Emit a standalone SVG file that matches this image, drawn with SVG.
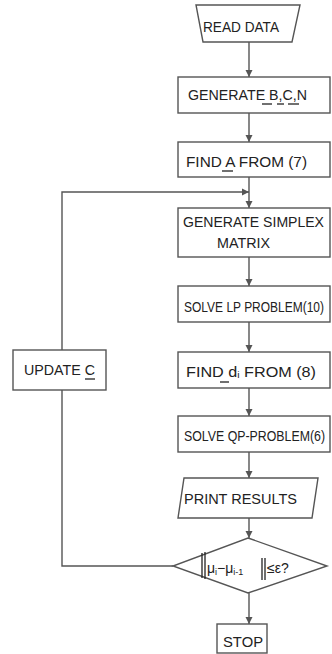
<svg xmlns="http://www.w3.org/2000/svg" width="332" height="654" viewBox="0 0 332 654">
<defs>
<marker id="ah" viewBox="0 0 10 10" refX="10" refY="5" markerWidth="7" markerHeight="8" orient="auto" markerUnits="userSpaceOnUse">
<path d="M0,0 L10,5 L0,10 z" fill="#555"/>
</marker>
<style>
.box{fill:#fff;stroke:#555;stroke-width:1.4}
.t{font-family:"Liberation Sans",Arial,sans-serif;font-size:14px;fill:#222}
.c{fill:none;stroke:#555;stroke-width:1.4}
.u{stroke:#222;stroke-width:1.3}
</style>
</defs>
<rect width="332" height="654" fill="#fff"/>
<g id="connectors">
<line class="c" x1="249" y1="42" x2="249" y2="77" marker-end="url(#ah)"/>
<line class="c" x1="249" y1="113" x2="249" y2="142" marker-end="url(#ah)"/>
<line class="c" x1="249" y1="177" x2="249" y2="208" marker-end="url(#ah)"/>
<line class="c" x1="249" y1="257" x2="249" y2="286" marker-end="url(#ah)"/>
<line class="c" x1="249" y1="322" x2="249" y2="352" marker-end="url(#ah)"/>
<line class="c" x1="249" y1="388" x2="249" y2="416" marker-end="url(#ah)"/>
<line class="c" x1="249" y1="452" x2="249" y2="478" marker-end="url(#ah)"/>
<line class="c" x1="249" y1="518" x2="249" y2="538" marker-end="url(#ah)"/>
<line class="c" x1="249" y1="593" x2="249" y2="624" marker-end="url(#ah)"/>
<polyline class="c" points="173,566 62,566 62,390"/>
<polyline class="c" points="62,350 62,192 249,192" marker-end="url(#ah)"/>
</g>
<g id="read-data">
<polygon class="box" points="196,5 300,5 292,42 203,42"/>
<text class="t" x="203" y="32" textLength="76" lengthAdjust="spacingAndGlyphs">READ DATA</text>
</g>
<g id="generate-bcn">
<rect class="box" x="178" y="77" width="152" height="36"/>
<text class="t" x="188" y="100" textLength="119" lengthAdjust="spacingAndGlyphs">GENERATE  B,C,N</text>
<line class="u" x1="262" y1="104" x2="272" y2="104"/>
<line class="u" x1="277" y1="104" x2="284" y2="104"/>
<line class="u" x1="288" y1="104" x2="299" y2="104"/>
</g>
<g id="find-a">
<rect class="box" x="178" y="142" width="152" height="35"/>
<text class="t" x="186" y="167" textLength="121" lengthAdjust="spacingAndGlyphs">FIND A FROM (7)</text>
<line class="u" x1="222" y1="171" x2="233" y2="171"/>
</g>
<g id="generate-simplex">
<rect class="box" x="178" y="208" width="152" height="49"/>
<text class="t" x="183" y="227" textLength="141" lengthAdjust="spacingAndGlyphs">GENERATE  SIMPLEX</text>
<text class="t" x="217" y="248" textLength="53" lengthAdjust="spacingAndGlyphs">MATRIX</text>
</g>
<g id="solve-lp">
<rect class="box" x="178" y="286" width="152" height="36"/>
<text class="t" x="184" y="312" textLength="140" lengthAdjust="spacingAndGlyphs">SOLVE  LP PROBLEM(10)</text>
</g>
<g id="find-di">
<rect class="box" x="178" y="352" width="152" height="36"/>
<text class="t" x="186" y="377" textLength="130" lengthAdjust="spacingAndGlyphs">FIND  d<tspan font-size="9" dy="1">i</tspan><tspan dy="-1"> FROM (8)</tspan></text>
<line class="u" x1="220" y1="382" x2="229" y2="382"/>
</g>
<g id="update-c">
<rect class="box" x="13" y="350" width="93" height="40"/>
<text class="t" x="24" y="375" textLength="71" lengthAdjust="spacingAndGlyphs">UPDATE  C</text>
<line class="u" x1="85" y1="379" x2="95" y2="379"/>
</g>
<g id="solve-qp">
<rect class="box" x="178" y="416" width="152" height="36"/>
<text class="t" x="184" y="441" textLength="141" lengthAdjust="spacingAndGlyphs">SOLVE  QP-PROBLEM(6)</text>
</g>
<g id="print-results">
<polygon class="box" points="184,478 318,478 312,518 178,518"/>
<text class="t" x="184" y="504" textLength="113" lengthAdjust="spacingAndGlyphs">PRINT  RESULTS</text>
</g>
<g id="convergence">
<polygon class="box" points="248,538 327,566 248,593 173,566"/>
<line class="u" x1="202" y1="553" x2="202" y2="578"/>
<line class="u" x1="205" y1="552" x2="205" y2="579"/>
<line class="u" x1="262" y1="558" x2="262" y2="580"/>
<line class="u" x1="265" y1="558" x2="265" y2="580"/>
<text class="t" x="207" y="573" font-size="16">μ<tspan font-size="9" dy="2">i</tspan><tspan dy="-2">−μ</tspan><tspan font-size="9" dy="2">i-1</tspan></text>
<text class="t" x="267" y="573" font-size="15">≤ε?</text>
</g>
<g id="stop">
<rect class="box" x="217" y="624" width="50" height="29"/>
<text class="t" x="223" y="647" textLength="40" lengthAdjust="spacingAndGlyphs">STOP</text>
</g>
</svg>
